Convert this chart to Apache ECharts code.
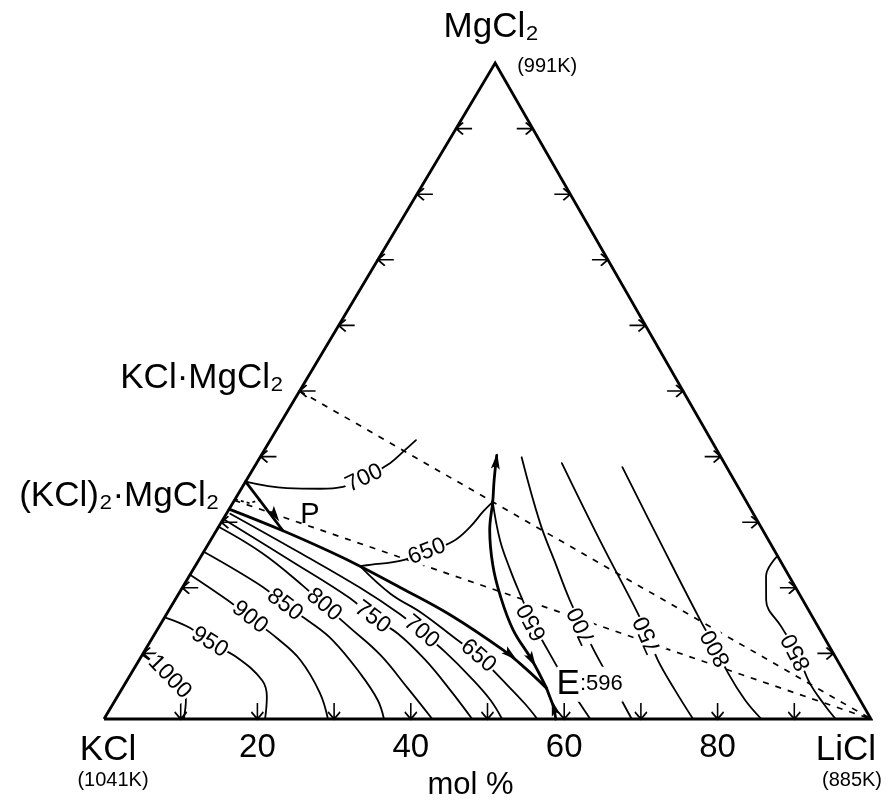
<!DOCTYPE html>
<html>
<head>
<meta charset="utf-8">
<script src="https://cdn.jsdelivr.net/npm/echarts/dist/echarts.min.js"></script>
<style>
  html, body { margin: 0; background: #fff; }
  #chart { width: 891px; height: 804px; }
</style>
</head>
<body>
<div id="chart"></div>
<script>
// every point is a composition [LiCl mol%, MgCl2 mol%], KCl is the rest
const outline = [[0, 0], [100, 0], [0, 100], [0, 0]];
const joinKM = [[0, 50], [100, 0]];       // KCl·MgCl2 - LiCl
const joinK2M = [[0, 33.33], [100, 0]];   // (KCl)2·MgCl2 - LiCl
const smallArc = [[0, 33.5], [2.2, 32.9], [3.5, 33.5]];

// isotherms, KCl field
const iso1000 = [[0, 9.8], [5.3, 6.4], [9.2, 2.9], [10.4, 0]];
const iso950 = [[0, 15.5], [4.1, 13.9], [7.8, 11.7], [12.7, 9.3], [17.6, 5.9], [19.5, 3.4], [21.0, 0]];
const iso900 = [[0, 22.0], [6.9, 18.1], [11.1, 15.5], [16.3, 12.3], [21.0, 9.0], [26.1, 4.0], [29.2, 0]];
const iso850 = [[0, 25.5], [10.5, 20.1], [14.7, 17.4], [19.3, 14.8], [23.7, 12.0], [29.8, 7.0], [34.2, 2.9], [36.5, 0]];
const iso800 = [[0, 29.3], [7.7, 25.3], [15.6, 20.3], [19.8, 17.4], [25.0, 13.9], [31.0, 9.8], [37.2, 4.7], [42.8, 0]];
const iso750 = [[0, 30.5], [11.9, 24.2], [22.7, 18.4], [27.1, 15.5], [31.7, 13.0], [37.3, 9.0], [42.9, 4.4], [48.0, 0]];
const iso700k = [[0.5, 31.3], [12.7, 25.3], [23.2, 20.0], [30.4, 16.0], [34.6, 13.3], [39.3, 10.2], [44.5, 6.4], [48.9, 2.9], [51.9, 0]];
const iso650k = [[21.5, 23.3], [27.6, 19.1], [33.1, 16.2], [39.5, 12.3], [43.9, 9.6], [49.5, 5.5], [53.6, 2.4], [56.5, 0]];
// KCl·MgCl2 field
const iso700u = [[0, 36.2], [5.9, 35.2], [10.3, 35.1], [13.1, 35.4], [15.2, 36.7], [17.4, 39.0], [18.3, 40.9], [19.0, 42.5]];
const iso650u = [[21.5, 23.3], [22.7, 23.5], [26.3, 24.1], [29.1, 25.5], [31.7, 27.1], [32.8, 29.3], [33.3, 31.6], [33.8, 33.1]];
// LiCl field
const iso650l = [[33.8, 33.1], [37.7, 27.3], [41.4, 22.7], [44.4, 19.2], [48.3, 14.8], [52.5, 10.5], [57.1, 5.9], [60.8, 2.4], [63.4, 0]];
const iso700l = [[34.1, 39.9], [41.6, 29.9], [46.7, 23.8], [51.5, 18.1], [55.1, 14.2], [58.8, 10.2], [64.9, 4.0], [68.8, 0]];
const iso750l = [[39.8, 39.0], [50.7, 27.3], [61.2, 16.3], [64.4, 12.8], [67.6, 9.0], [72.2, 4.4], [76.8, 0]];
const iso800l = [[48.0, 38.4], [59.2, 26.5], [70.6, 14.5], [74.3, 10.8], [77.8, 7.0], [82.1, 2.9], [85.7, 0]];
const iso850l = [[75.1, 24.7], [75.2, 21.8], [77.1, 18.1], [81.2, 14.0], [85.1, 10.2], [89.2, 5.5], [92.9, 2.1], [95.4, 0]];

// univariant lines
const boundaryPE = [[0, 32.0], [8.7, 28.7], [16.5, 25.5], [21.5, 23.3], [28.3, 20.1], [37.0, 15.9], [46.7, 10.5], [50.9, 7.8], [55.3, 4.7]];
const boundaryQE = [[30.7, 40.2], [32.3, 36.4], [33.8, 33.1], [35.6, 28.8], [38.7, 23.5], [42.0, 18.9], [46.4, 13.6], [51.2, 9.0], [55.3, 4.7]];
const boundaryEe = [[55.3, 4.7], [57.8, 1.7], [58.9, 0]];
const boundaryP = [[0, 36.2], [8.7, 28.7]];

const arrowPos = [[48.0, 9.8], [51.2, 9.0], [31.1, 39.3], [57.8, 1.7], [6.4, 31.1]];
const arrowRot = [-129, -150, -7, 16, -145];

const isoText = ['1000', '950', '900', '850', '800', '750', '700', '650', '700', '650', '650', '700', '750', '800', '850'];
const isoAt = [[5.3, 6.4], [7.8, 11.7], [11.1, 15.5], [14.7, 17.4], [19.8, 17.4], [27.1, 15.5], [34.6, 13.3], [43.9, 9.6],
  [15.2, 36.7], [29.1, 25.5], [48.3, 14.8], [55.1, 14.2], [64.4, 12.8], [74.3, 10.8], [85.1, 10.2]];
const isoRot = [-46, -32, -38, -37, -40, -37, -40, -40, 26, 21, 118, 115, 114, 118, 117];

const tickSteps = [10, 20, 30, 40, 50, 60, 70, 80, 90];
const tickLabels = ['20', '40', '60', '80'];
const pointP = [8.7, 28.7];
const pointE = [55.3, 4.7];

const SKEW = 0.51; // the scan is a little sheared: apex sits right of the base midpoint
const tern = p => [p[0] + SKEW * p[1], p[1]];
const INK = '#000';
const FONT = 'Liberation Sans, DejaVu Sans, sans-serif';

function curve(pts, width, extra) {
  return Object.assign({
    type: 'line', data: pts.map(tern), symbol: 'none', smooth: 0.4, clip: false, silent: true, z: 2,
    lineStyle: { color: INK, width: width, cap: 'round', join: 'round' }
  }, extra || {});
}
function dashed(pts, dash) {
  return curve(pts, 1.7, { smooth: false, lineStyle: { color: INK, width: 1.7, type: dash } });
}
function ticks(pts, path, size, offset) {
  return {
    type: 'scatter', data: pts.map(tern), symbol: path, symbolSize: size, symbolOffset: offset,
    clip: false, silent: true, z: 3,
    itemStyle: { color: 'rgba(0,0,0,0)', borderColor: INK, borderWidth: 1.8, opacity: 1 }
  };
}
function note(p, text, off, size, align, extra) {
  return {
    value: tern(p),
    label: Object.assign({
      formatter: text, offset: off, fontSize: size, align: align || 'center',
      color: INK, fontFamily: FONT
    }, extra || {})
  };
}

const notes = [
  note([0, 100], 'MgCl₂', [-4, -36], 35),
  note([0, 100], '(991K)', [52, 3], 20),
  note([0, 0], 'KCl', [4, 31], 35),
  note([0, 0], '(1041K)', [9, 61], 20),
  note([100, 0], 'LiCl', [-25, 31], 35),
  note([100, 0], '(885K)', [-19, 61], 20),
  note([0, 50], 'KCl·MgCl₂', [-16, -13], 35, 'right'),
  note([0, 33.33], '(KCl)₂·MgCl₂', [-15, -4], 35, 'right'),
  note(pointP, 'P', [27, -16], 29),
  note(pointE, '{e|E}{n|:596}', [10, -4], 22, 'left', {
    backgroundColor: '#fff',
    rich: { e: { fontSize: 35, fontFamily: FONT, color: INK }, n: { fontSize: 22, fontFamily: FONT, color: INK } }
  }),
  note([50, 0], 'mol %', [-17, 66], 31)
].concat(tickLabels.map(t => note([+t, 0], t, [0, 29], 33)));

const option = {
  animation: false,
  backgroundColor: '#fff',
  textStyle: { fontFamily: FONT, color: INK },
  grid: { left: 104, right: 20, top: 63, bottom: 85 },
  xAxis: { type: 'value', min: 0, max: 100, show: false },
  yAxis: { type: 'value', min: 0, max: 100, show: false },
  series: [
    curve(outline, 2.8, { smooth: false, lineStyle: { color: INK, width: 2.8, join: 'miter' } }),
    dashed(joinKM, [6, 7]),
    dashed(joinK2M, [6, 7]),
    dashed(smallArc, [3, 3]),
    curve(iso1000, 1.8), curve(iso950, 1.8), curve(iso900, 1.8), curve(iso850, 1.8),
    curve(iso800, 1.8), curve(iso750, 1.8), curve(iso700k, 1.8), curve(iso650k, 1.8),
    curve(iso700u, 1.8), curve(iso650u, 1.8),
    curve(iso650l, 1.8), curve(iso700l, 1.8), curve(iso750l, 1.8), curve(iso800l, 1.8), curve(iso850l, 1.8),
    curve(boundaryPE, 2.8), curve(boundaryQE, 2.8), curve(boundaryEe, 2.8, { smooth: false }),
    curve(boundaryP, 2.8, { smooth: false }),
    {
      type: 'scatter', clip: false, silent: true, z: 4,
      symbol: 'path://M4,0 L8,14 L4,11 L0,14 Z', symbolSize: [9, 16],
      data: arrowPos.map((p, i) => ({ value: tern(p), symbolRotate: arrowRot[i] })),
      itemStyle: { color: INK, opacity: 1 }
    },
    ticks(tickSteps.map(m => [0, m]), 'path://M0,6 L16,6 M7,0 L0,6 L7,12', [16, 12], [8, 0]),
    ticks(tickSteps.map(m => [100 - m, m]), 'path://M0,6 L16,6 M9,0 L16,6 L9,12', [16, 12], [-8, 0]),
    ticks(tickSteps.map(l => [l, 0]), 'path://M6,0 L6,16 M0,9 L6,16 L12,9', [12, 16], [0, -8]),
    {
      type: 'scatter', clip: false, silent: true, z: 5, symbolSize: 1,
      itemStyle: { color: 'rgba(0,0,0,0)', opacity: 1 },
      label: {
        show: true, position: 'inside', color: INK, fontSize: 23, fontFamily: FONT,
        backgroundColor: '#fff', padding: [0, 1]
      },
      data: isoAt.map((p, i) => ({
        value: tern(p),
        label: { formatter: isoText[i], rotate: isoRot[i], color: INK }
      }))
    },
    {
      type: 'scatter', clip: false, silent: true, z: 6, symbolSize: 1,
      itemStyle: { color: 'rgba(0,0,0,0)', opacity: 1 },
      label: { show: true, position: 'inside', color: INK, fontFamily: FONT, verticalAlign: 'middle' },
      data: notes
    }
  ]
};

const chart = echarts.init(document.getElementById('chart'), null, { renderer: 'canvas' });
chart.setOption(option);
</script>
</body>
</html>
